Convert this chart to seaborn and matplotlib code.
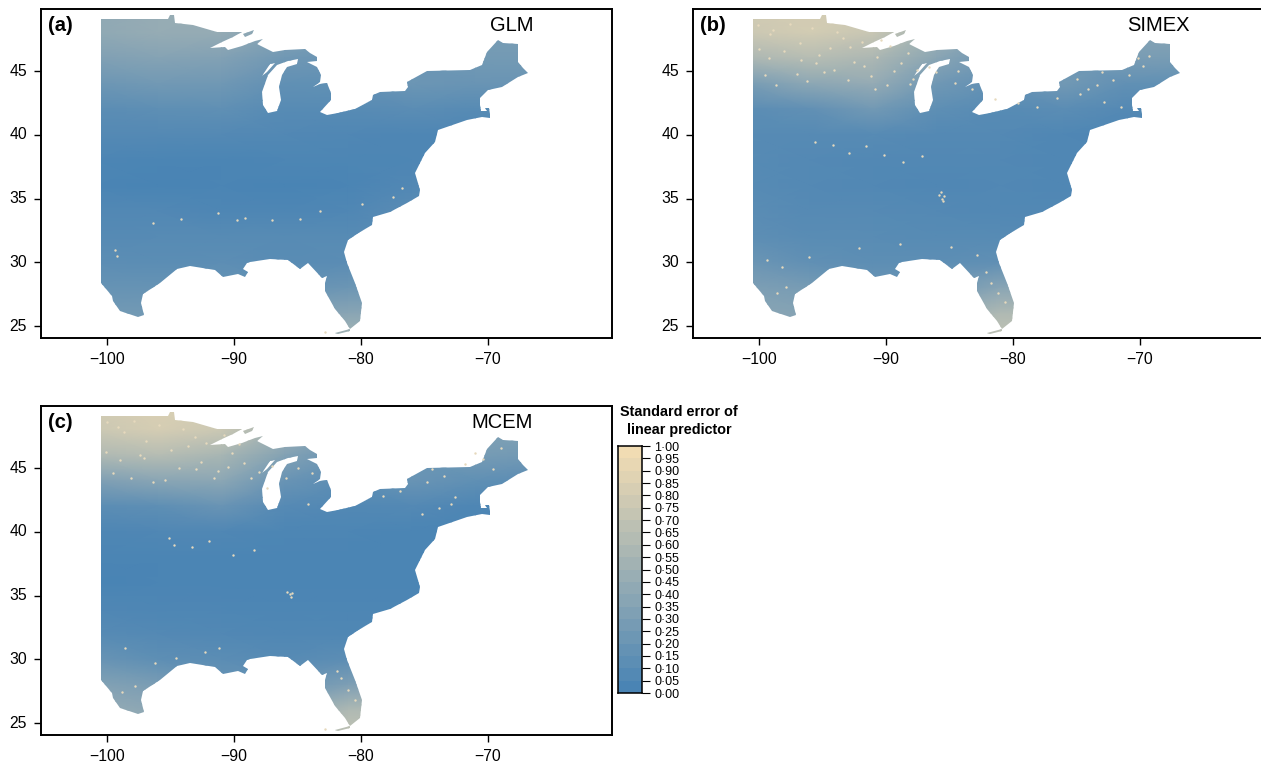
import matplotlib
matplotlib.use('Agg')
import matplotlib.pyplot as plt
import seaborn as sns
import pandas as pd
from matplotlib.colors import LinearSegmentedColormap
from matplotlib.path import Path
from matplotlib.patches import PathPatch

# grid nodes of the standard error tables, north to south
lon_nodes = [-101, -96, -91, -86, -81, -76, -71, -66]
lat_nodes = [50, 48, 46, 44, 42, 40, 38, 36, 34, 32, 30, 28, 26, 24]

se_glm = [
    [.42, .46, .46, .40, .30, .25, .30, .30],
    [.42, .46, .45, .36, .28, .25, .28, .30],
    [.33, .36, .34, .24, .20, .20, .26, .26],
    [.22, .25, .24, .16, .15, .22, .20, .20],
    [.12, .14, .15, .10, .10, .12, .10, .10],
    [.08, .08, .08, .07, .06, .05, .05, .05],
    [.04, .03, .03, .04, .04, .05, .06, .06],
    [.03, .02, .03, .02, .03, .07, .09, .09],
    [.07, .07, .05, .05, .06, .12, .12, .12],
    [.09, .10, .10, .10, .10, .12, .12, .12],
    [.13, .12, .13, .11, .12, .15, .15, .15],
    [.18, .18, .18, .18, .22, .25, .25, .25],
    [.25, .25, .30, .35, .38, .38, .38, .38],
    [.30, .30, .35, .50, .55, .55, .55, .55],
]
se_simex = [
    [.80, .82, .80, .60, .40, .35, .38, .38],
    [.76, .80, .74, .50, .35, .30, .35, .40],
    [.58, .64, .58, .38, .22, .22, .30, .28],
    [.28, .40, .45, .24, .16, .25, .16, .15],
    [.12, .16, .25, .14, .10, .12, .08, .08],
    [.10, .09, .10, .08, .08, .06, .05, .05],
    [.10, .08, .07, .07, .07, .06, .06, .06],
    [.10, .08, .07, .06, .07, .06, .06, .06],
    [.12, .09, .09, .08, .07, .07, .08, .08],
    [.14, .11, .11, .10, .10, .09, .09, .09],
    [.22, .16, .13, .13, .16, .20, .20, .20],
    [.32, .28, .20, .22, .38, .42, .42, .42],
    [.38, .36, .30, .45, .60, .60, .60, .60],
    [.40, .40, .40, .60, .70, .70, .70, .70],
]
se_mcem = [
    [.80, .84, .82, .60, .40, .35, .35, .35],
    [.76, .82, .76, .50, .32, .28, .32, .35],
    [.60, .64, .56, .35, .20, .18, .28, .25],
    [.32, .38, .40, .20, .12, .20, .15, .12],
    [.12, .14, .20, .09, .07, .08, .05, .05],
    [.05, .06, .06, .04, .04, .03, .03, .03],
    [.03, .03, .03, .03, .03, .03, .03, .03],
    [.02, .03, .03, .03, .03, .03, .04, .04],
    [.06, .05, .05, .04, .04, .04, .05, .05],
    [.10, .08, .07, .06, .06, .06, .06, .06],
    [.20, .14, .12, .10, .13, .20, .20, .20],
    [.35, .30, .20, .20, .32, .40, .40, .40],
    [.45, .40, .30, .40, .60, .60, .60, .60],
    [.45, .45, .40, .60, .70, .70, .70, .70],
]

# coastline, lon/lat
coast_lon = [-100.47, -95.2, -95.04, -94.72, -94.65, -93.23, -91.34, -89.39, -90.08, -90.94, -91.89,
             -90.71, -90.47, -89.37, -88.35, -87.72, -88.19, -87.56, -86.93, -85.98, -84.41, -84.02,
             -83.46, -83.46, -84.25, -83.46, -83.15, -83.23, -83.78, -83.23, -82.68, -82.36, -82.36,
             -83.23, -82.68, -81.81, -80.47, -79.13, -79.05, -78.5, -76.54, -76.3, -76.38, -74.8,
             -71.42, -70.47, -70.08, -69.21, -68.82, -67.64, -67.64, -67.24, -66.85, -67.64, -68.9,
             -70.0, -70.63, -70.63, -70.55, -70.1, -70.24, -69.92, -69.84, -69.84, -70.47, -71.65,
             -73.94, -74.17, -74.96, -75.75, -75.35, -75.43, -76.38, -77.72, -79.05, -79.13, -80.08,
             -81.02, -81.34, -81.1, -80.47, -79.92, -80.08, -80.87, -81.26, -82.05, -82.83, -82.83,
             -82.68, -83.07, -84.17, -84.8, -85.75, -87.17, -88.74, -88.98, -89.29, -88.9, -89.13,
             -89.69, -90.87, -91.5, -93.46, -94.49, -95.83, -97.17, -97.33, -97.09, -97.56, -98.98,
             -99.53, -99.6, -100.47]
coast_lat = [49.09, 49.09, 49.4, 49.4, 48.77, 48.62, 48.07, 48.09, 47.7, 47.28, 46.81,
             46.89, 46.65, 46.97, 47.36, 47.52, 47.12, 46.81, 46.49, 46.65, 46.73, 46.41,
             46.1, 45.79, 45.71, 45.31, 44.69, 44.14, 43.74, 43.98, 44.06, 43.27, 42.72,
             41.78, 41.54, 41.7, 42.05, 42.72, 43.11, 43.35, 43.43, 43.74, 44.14, 45.0,
             45.08, 45.47, 46.49, 47.44, 47.2, 47.12, 45.71, 45.24, 44.84, 44.53, 43.74,
             43.51, 42.88, 42.33, 41.9, 41.85, 42.1, 42.1, 41.6, 41.3, 41.38, 41.15,
             40.36, 39.4, 38.55, 36.98, 35.64, 35.17, 34.62, 33.92, 33.52, 32.89, 32.34,
             31.71, 30.77, 29.91, 28.41, 26.84, 25.42, 24.8, 25.42, 26.37, 27.78, 28.41,
             28.96, 28.8, 29.91, 29.51, 30.14, 30.22, 30.06, 29.91, 29.51, 29.2, 28.88,
             29.12, 28.88, 29.36, 29.67, 29.51, 28.41, 27.55, 26.84, 25.9, 25.74, 26.21,
             27.0, 27.39, 28.41]

lake_lon = [-87.32, -87.8, -87.72, -87.32, -86.61, -86.3, -86.46, -86.22, -85.83, -85.04, -84.96, -85.75, -86.61]
lake_lat = [44.69, 43.35, 42.33, 41.7, 41.86, 42.72, 43.74, 44.69, 45.31, 45.55, 45.94, 45.79, 45.47]
bay_lon = [-87.8, -87.4, -86.77, -87.17]
bay_lat = [44.61, 44.92, 45.63, 45.55]
royale_lon = [-89.29, -88.43, -88.58, -89.13]
royale_lat = [47.91, 48.22, 47.91, 47.67]
keys_lon = [-82.05, -80.87, -80.9, -81.81]
keys_lat = [24.48, 24.8, 24.62, 24.4]

# pale cells that stand out from the field
specks_glm_lon = [-99.37, -99.2, -96.4, -94.2, -91.26, -89.76, -89.1, -87.0, -84.8, -83.2, -79.9, -77.5, -76.8, -82.83]
specks_glm_lat = [30.93, 30.5, 33.1, 33.4, 33.9, 33.3, 33.5, 33.3, 33.4, 34.0, 34.6, 35.1, 35.8, 24.56]
specks_simex_lon = [-85.8, -85.6, -85.4, -85.5, -85.7, -95.6, -94.2, -92.9, -91.6, -90.2, -88.7, -87.2,
                    -99.5, -98.7, -96.2, -94.1, -92.5, -91.2, -90.7, -89.4, -87.9, -99.1, -96.8, -95.3,
                    -93.4, -89.7, -88.3, -86.1, -84.6, -83.2, -81.4, -79.6, -78.1, -76.5, -74.7, -73.4,
                    -72.1, -70.9, -69.8, -72.8, -71.5, -99.4, -98.2, -96.1, -92.1, -88.9, -84.9, -82.8,
                    -81.7, -81.2, -80.6, -82.1, -98.6, -97.9, -100.1, -98.9, -97.6, -96.7, -95.8, -94.9,
                    -93.9, -92.8, -91.9, -90.9, -89.9, -88.8, -87.6, -100.0, -99.2, -98.0, -97.0, -95.5,
                    -94.4, -93.0, -91.7, -90.4, -88.1, -86.6, -84.3, -73.0, -74.1, -75.0, -70.2, -69.3]
specks_simex_lat = [35.3, 35.0, 35.2, 34.8, 35.5, 39.4, 39.2, 38.6, 39.1, 38.4, 37.9, 38.3,
                    44.7, 43.9, 44.2, 45.1, 45.7, 44.6, 46.1, 45.0, 44.4, 47.9, 47.2, 46.3,
                    47.6, 47.0, 46.4, 44.9, 44.1, 43.6, 42.8, 42.5, 42.2, 42.9, 43.2, 43.9,
                    44.3, 44.7, 45.4, 42.6, 42.2, 30.2, 29.6, 30.4, 31.1, 31.4, 31.2, 30.6,
                    28.4, 27.6, 26.9, 29.2, 27.6, 28.1, 48.6, 48.2, 48.7, 45.9, 48.4, 44.9,
                    48.1, 46.9, 47.3, 43.6, 43.9, 45.6, 45.1, 46.7, 46.0, 46.6, 44.8, 45.6,
                    46.8, 44.3, 45.4, 47.4, 44.0, 45.3, 45.0, 44.9, 43.6, 44.4, 46.0, 46.2]
specks_mcem_lon = [-85.8, -85.6, -85.4, -85.5, -95.1, -94.7, -93.3, -92.0, -90.1, -88.4,
                   -99.5, -98.1, -96.4, -94.3, -92.6, -91.3, -90.2, -98.7, -96.9, -95.0,
                   -93.1, -89.6, -87.4, -85.9, -84.2, -78.3, -76.9, -74.8, -73.5, -72.6,
                   -71.8, -70.4, -69.6, -75.2, -73.9, -72.9, -96.2, -94.6, -92.3, -98.6,
                   -81.6, -81.0, -80.5, -81.9, -98.8, -97.8, -91.2, -100.0, -99.1, -97.9, -97.1,
                   -95.9, -94.0, -93.6, -92.2, -91.6, -90.8, -89.2, -88.0, -100.1, -99.0, -97.4,
                   -95.4, -93.0, -90.5, -88.7, -87.0, -85.0, -83.9, -74.4, -71.0, -69.0, -82.83]
specks_mcem_lat = [35.3, 35.1, 35.2, 34.9, 39.5, 39.0, 38.8, 39.3, 38.2, 38.6,
                   44.6, 44.2, 43.9, 45.0, 45.5, 44.8, 46.2, 47.8, 47.1, 46.4,
                   47.4, 46.9, 43.4, 44.2, 42.2, 42.8, 43.2, 43.9, 44.4, 42.7,
                   45.3, 45.7, 44.9, 41.4, 41.9, 42.2, 29.7, 30.1, 30.6, 30.9,
                   28.5, 27.6, 26.8, 29.1, 27.4, 27.9, 30.9, 48.6, 48.2, 48.7, 45.8,
                   48.4, 48.1, 46.7, 47.0, 44.2, 47.6, 45.4, 44.7, 46.3, 45.6, 46.0,
                   44.1, 44.9, 45.1, 44.2, 45.2, 45.0, 44.6, 44.9, 46.2, 46.6, 24.56]

x_ticks = [-100, -90, -80, -70]
y_ticks = [25, 30, 35, 40, 45]
scale_values = [.975, .925, .875, .825, .775, .725, .675, .625, .575, .525,
                .475, .425, .375, .325, .275, .225, .175, .125, .075, .025]
scale_labels = ['1·00', '0·95', '0·90', '0·85', '0·80', '0·75', '0·70', '0·65', '0·60', '0·55', '0·50',
                '0·45', '0·40', '0·35', '0·30', '0·25', '0·20', '0·15', '0·10', '0·05', '0·00']

W, H = 1261, 767
sns.set_theme(style='ticks')
plt.rcParams['font.family'] = ['Liberation Sans', 'DejaVu Sans']
plt.rcParams['text.color'] = 'black'
cmap = LinearSegmentedColormap.from_list('se', ['steelblue', 'wheat'])


def to_x(lon):
    return (lon - lon_nodes[0]) / (lon_nodes[1] - lon_nodes[0])


def to_y(lat):
    return (lat_nodes[0] - lat) / (lat_nodes[0] - lat_nodes[1])


def pixel_axes(fig, left, top, right, bottom):
    return fig.add_axes([left / W, 1 - bottom / H, (right - left) / W, (bottom - top) / H])


def land_path():
    verts, codes = [], []
    # hole rings run the other way round from the outer ring
    for lons, lats in [(coast_lon, coast_lat), (lake_lon, lake_lat), (bay_lon, bay_lat),
                       (royale_lon, royale_lat), (keys_lon, keys_lat)]:
        ring = [(to_x(a), to_y(b)) for a, b in zip(lons, lats)]
        verts += ring + [ring[0]]
        codes += [Path.MOVETO] + [Path.LINETO] * (len(ring) - 1) + [Path.CLOSEPOLY]
    return Path(verts, codes)


def draw_panel(fig, box, values, spk_lon, spk_lat, letter, name, name_x):
    ax = pixel_axes(fig, *box)
    df = pd.DataFrame(values, index=lat_nodes, columns=lon_nodes)
    sns.heatmap(df, ax=ax, cmap=cmap, vmin=0, vmax=1, cbar=False, shading='gouraud')
    clip = PathPatch(land_path(), transform=ax.transData)
    ax.collections[0].set_clip_path(clip)
    sns.scatterplot(x=[to_x(v) for v in spk_lon], y=[to_y(v) for v in spk_lat], ax=ax,
                    s=3, color='#e6d9bd', linewidth=0, legend=False)
    ax.set_xlim(to_x(-105.2), to_x(-60.24))
    ax.set_ylim(to_y(24.06), to_y(49.87))
    ax.set_xticks([to_x(v) for v in x_ticks])
    ax.set_xticklabels([f'\u2212{abs(v)}' for v in x_ticks], rotation=0)
    ax.set_yticks([to_y(v) for v in y_ticks])
    ax.set_yticklabels(y_ticks, rotation=0)
    ax.set_xlabel('')
    ax.set_ylabel('')
    ax.tick_params(axis='both', labelsize=11.3, length=5, width=1, color='black', labelcolor='black', pad=5,
                   bottom=True, left=True)
    for side in ax.spines.values():
        side.set_visible(True)
        side.set_linewidth(1.4)
        side.set_color('black')
    ax.text(0.012, 0.951, letter, transform=ax.transAxes, fontsize=14.5, fontweight='bold', va='center', ha='left')
    ax.text(name_x, 0.951, name, transform=ax.transAxes, fontsize=14.5, va='center', ha='right')
    return ax


fig = plt.figure(figsize=(W / 100, H / 100), dpi=100)

draw_panel(fig, (41, 9, 612, 338), se_glm, specks_glm_lon, specks_glm_lat, '(a)', 'GLM', 0.862)
draw_panel(fig, (693, 9, 1264, 338), se_simex, specks_simex_lon, specks_simex_lat, '(b)', 'SIMEX', 0.869)
draw_panel(fig, (41, 406, 612, 735), se_mcem, specks_mcem_lon, specks_mcem_lat, '(c)', 'MCEM', 0.862)

# stepped colour scale
cax = pixel_axes(fig, 618, 446, 642, 693)
sns.heatmap(pd.DataFrame({'se': scale_values}), ax=cax, cmap=cmap, vmin=0, vmax=1, cbar=False)
cax.yaxis.tick_right()
cax.set_xticks([])
cax.set_yticks(range(len(scale_labels)))
cax.set_yticklabels(scale_labels, rotation=0)
cax.tick_params(axis='y', labelsize=9, length=6, width=0.8, color='black', labelcolor='black', pad=3, right=True)
for side in cax.spines.values():
    side.set_visible(True)
    side.set_linewidth(1.1)
    side.set_color('black')

fig.text(679 / W, 1 - 421 / H, 'Standard error of\nlinear predictor', fontsize=10.4, fontweight='bold',
         ha='center', va='center', linespacing=1.35)

plt.savefig('out.png', dpi=100)
